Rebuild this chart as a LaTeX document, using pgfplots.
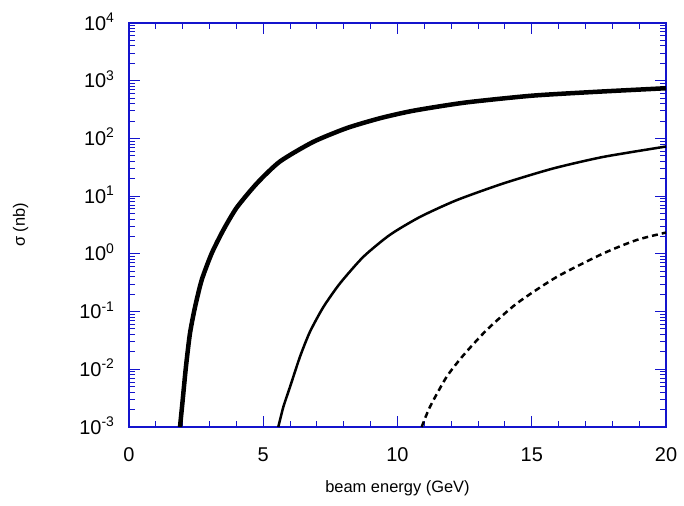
\documentclass[border=0pt]{standalone}
\usepackage{fontspec}
\setmainfont{Liberation Sans}
\usepackage{pgfplots}
\pgfplotsset{compat=1.18}
\definecolor{axblue}{RGB}{20,20,205}
\newcommand{\E}[1]{10\textsuperscript{#1}}
\begin{document}
\begin{tikzpicture}
\begin{axis}[
  scale only axis,
  width=537bp, height=404bp,
  xmin=0, xmax=20,
  ymode=log, log basis y=10,
  ymin=1e-3, ymax=1e4,
  xtick={0,5,10,15,20},
  minor x tick num=4,
  ytick={0.001,0.002,0.003,0.004,0.005,0.006,0.007,0.008,0.009,0.01,0.02,0.03,0.04,0.05,0.06,0.07,0.08,0.09,0.1,0.2,0.3,0.4,0.5,0.6,0.7,0.8,0.9,1,2,3,4,5,6,7,8,9,10,20,30,40,50,60,70,80,90,100,200,300,400,500,600,700,800,900,1000,2000,3000,4000,5000,6000,7000,8000,9000,10000},
  yticklabels={\E{-3},{},{},{},{},{},{},{},{},\E{-2},{},{},{},{},{},{},{},{},\E{-1},{},{},{},{},{},{},{},{},\E{0},{},{},{},{},{},{},{},{},\E{1},{},{},{},{},{},{},{},{},\E{2},{},{},{},{},{},{},{},{},\E{3},{},{},{},{},{},{},{},{},\E{4}},
  extra y ticks={0.001,0.01,0.1,1,10,100,1000,10000},
  extra y tick labels={},
  extra y tick style={/pgfplots/major tick length=11bp},
  /pgf/number format/assume math mode=true,
  tick align=inside,
  xtick pos=both, ytick pos=both,
  major tick length=6bp,
  minor tick length=6bp,
  x tick style={/pgfplots/major tick length=11bp},
  major tick style={axblue, line width=1bp},
  minor tick style={axblue, line width=1bp},
  axis line style={axblue, line width=1.3bp},
  xticklabel style={font=\fontsize{20}{24}\selectfont, yshift=-17bp},
  yticklabel style={font=\fontsize{20}{24}\selectfont, anchor=base east, yshift=-7bp, xshift=-11bp},
  xlabel={beam energy (GeV)},
  ylabel={σ (nb)},
  xlabel style={font=\fontsize{16.5}{19}\selectfont, at={(axis description cs:0.5,-0.161)}, anchor=base},
  ylabel style={font=\fontsize{16.5}{19}\selectfont, at={(axis description cs:-0.181,0.5)}, anchor=south},
]
\addplot[black, line width=4.5bp, smooth, tension=0.4] coordinates {
(1.90,0.001) (2.00,0.00295) (2.12,0.01096) (2.27,0.0417) (2.46,0.120) (2.71,0.355)
(3.08,1.02) (3.51,2.57) (4.01,6.31) (4.76,16.6) (5.62,39.8) (6.86,87.1)
(8.11,151) (9.35,224) (10.59,302) (12.5,417) (15,550) (17.5,646) (20,741)
};
\addplot[black, line width=2.5bp, smooth, tension=0.4] coordinates {
(5.56,0.001) (5.75,0.00224) (6.0,0.0050) (6.37,0.0166) (6.74,0.0447) (7.24,0.120)
(7.86,0.309) (8.73,0.891) (9.72,2.14) (10.84,4.37) (12.2,8.51) (13.94,16.6)
(15.80,30.2) (17.67,47.9) (20,72.4)
};
\addplot[black, line width=2.5bp, smooth, tension=0.4, dash pattern=on 6bp off 4bp] coordinates {
(10.90,0.001) (11.21,0.00224) (11.83,0.00741) (12.45,0.0174) (13.32,0.0479)
(14.44,0.138) (15.93,0.398) (17.67,1.02) (18.91,1.74) (20,2.34)
};
\end{axis}
\path (current axis.south west) ++(-129bp,-79bp) rectangle ++(684bp,506bp);
\end{tikzpicture}
\end{document}
